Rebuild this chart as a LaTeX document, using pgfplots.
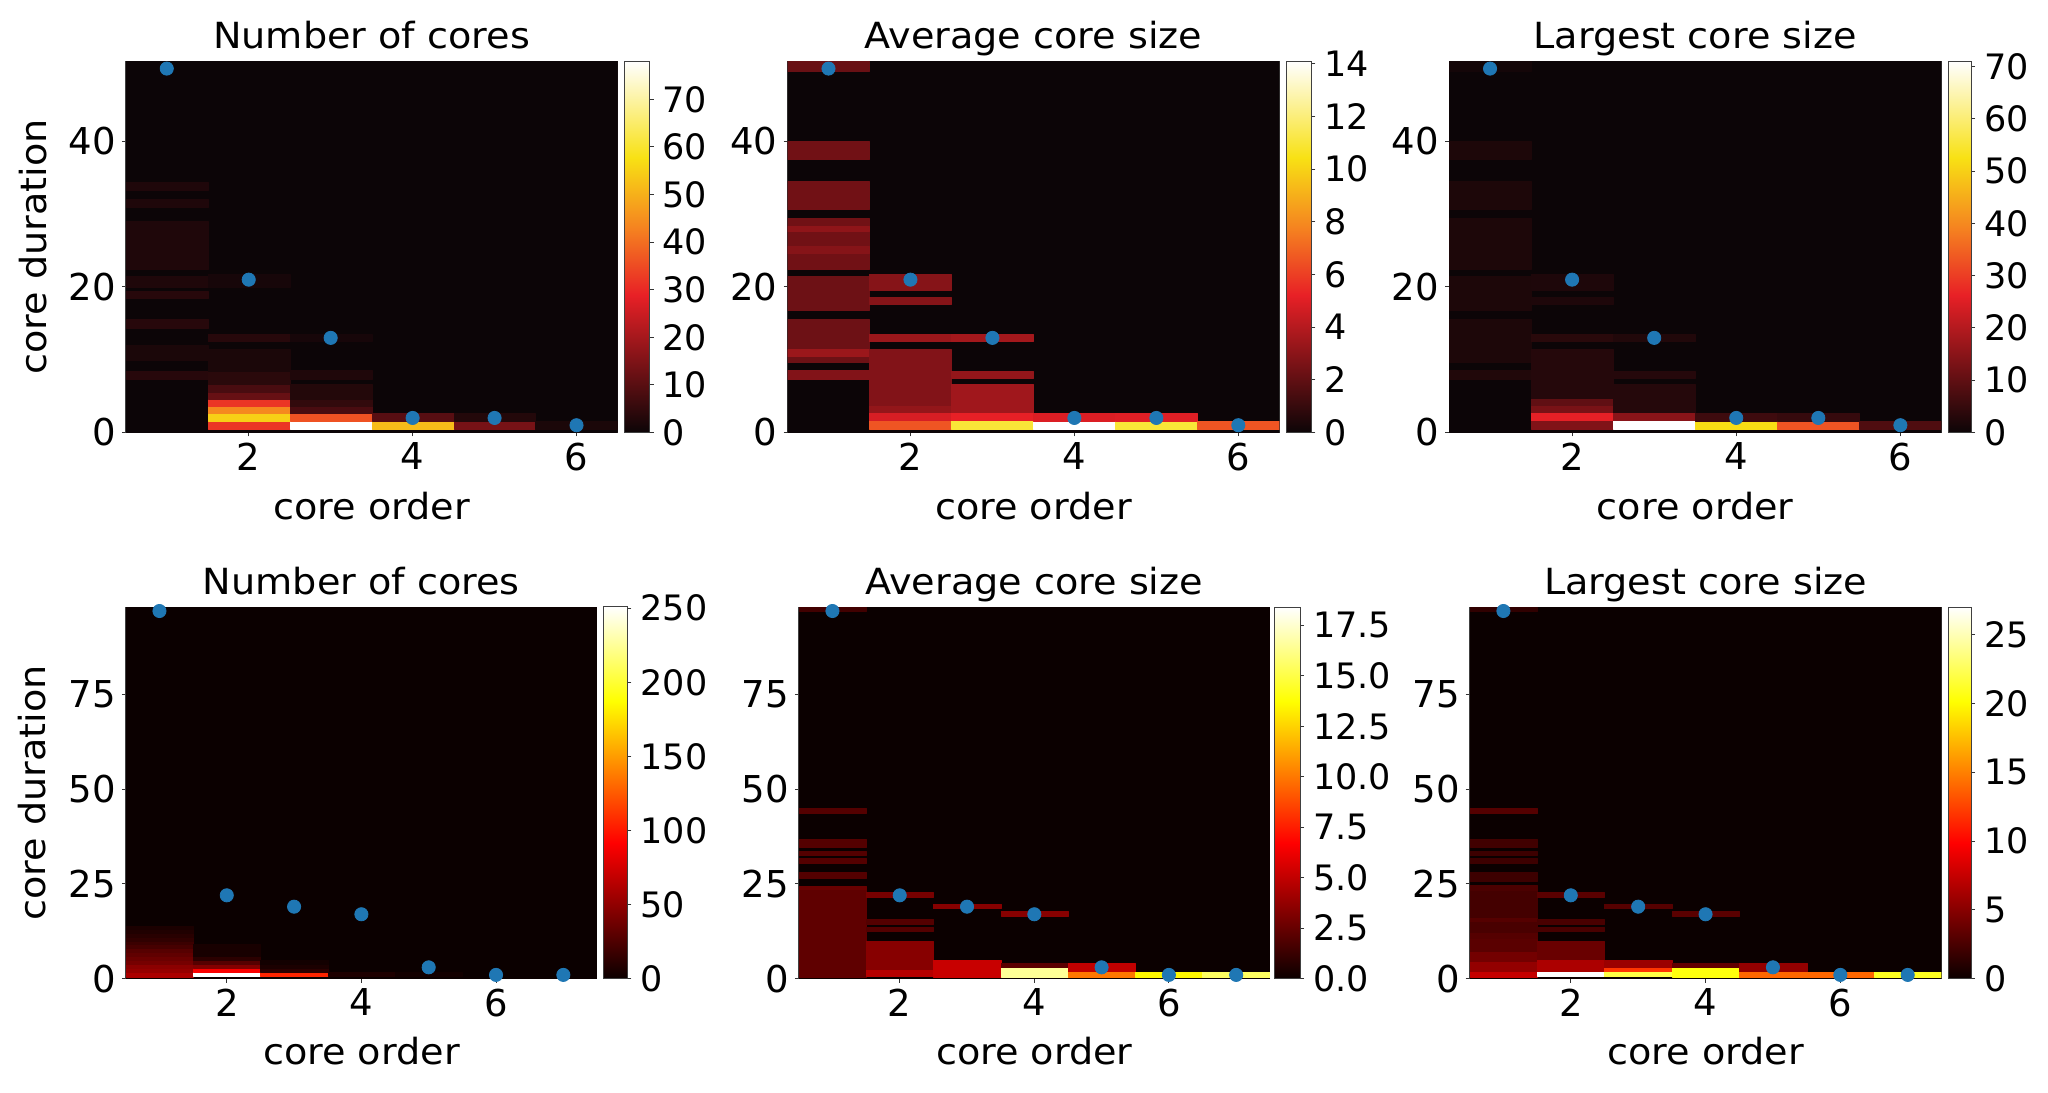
\documentclass[border=0pt]{standalone}
\usepackage{fontspec}
\setmainfont{DejaVu Sans}
\newfontfamily\labelfont[FakeStretch=1.06]{DejaVu Sans}
\usepackage{pgfplots}
\pgfplotsset{compat=1.18}
\definecolor{dotblue}{HTML}{1F77B4}
\pgfplotsset{
  /pgf/number format/assume math mode=true,
  colormap={topmap}{rgb255(0pt)=(12,5,7) rgb255(37pt)=(232,32,38) rgb255(55pt)=(245,130,32) rgb255(74pt)=(248,225,20) rgb255(100pt)=(255,255,255)},
  colormap={hotmap}{rgb255(0pt)=(11,0,0) rgb255(36.5pt)=(255,0,0) rgb255(74.6pt)=(255,255,0) rgb255(100pt)=(255,255,255)},
  colorbar shift/.style={},
  hm/.style={
    scale only axis, anchor=south west, axis line style={black!75,line width=0.5pt},
    tick align=outside, tick pos=left, major tick length=2pt, tick style={black!80,line width=0.5pt},
    xticklabel style={font=\fontsize{18.5}{20}\selectfont,yshift=0.5pt},
    yticklabel style={font=\fontsize{18.5}{20}\selectfont,xshift=0.5pt},
    label style={font=\labelfont\fontsize{18}{20}\selectfont},
    title style={font=\labelfont\fontsize{18}{20}\selectfont,anchor=base},
    xtick={2,4,6}, xmin=0.5, ymin=0, point meta min=0,
    xlabel={core order},
    colorbar,
  },
  band/.style={patch, patch type=rectangle, shader=flat, point meta=explicit, line width=0.1pt},
  dots/.style={only marks, mark=*, mark size=3.3pt, mark options={fill=dotblue,draw=dotblue}, point meta=none},
  cbar/.style={
    at={(parent axis.south east)}, anchor=south west, xshift=#1,
    tick align=outside, major tick length=2pt, tick style={black!80,line width=0.5pt},
    axis line style={black!75,line width=0.5pt},
    ytick pos=right, yticklabel pos=right,
    yticklabel style={font=\fontsize{17.5}{20}\selectfont,xshift=1pt},
  },
}
\begin{document}
\begin{tikzpicture}
\path[use as bounding box] (0,0) rectangle (1024pt,546pt);

% top row, Number of cores
\begin{axis}[hm, at={(62.9pt,329.75pt)}, width=245.85pt, height=185.6pt, xmax=6.5, ymax=51,
  ytick={0,20,40}, colormap name=topmap, point meta max=78,
  title={Number of cores}, title style={at={(0.5,1.003)}},
  xlabel style={at={(0.5,-0.198)},anchor=center},
  ylabel={core duration}, ylabel style={at={(-0.189,0.5)},anchor=center},
  colorbar style={cbar=3.5pt, width=12.5pt, ytick={0,10,20,30,40,50,60,70}}]
\addplot[band] coordinates {
(0.5,0)[0](6.5,0)[0](6.5,51)[0](0.5,51)[0]
(0.5,7.3)[3.5](1.5,7.3)[3.5](1.5,8.5)[3.5](0.5,8.5)[3.5]
(0.5,10)[2](1.5,10)[2](1.5,12)[2](0.5,12)[2]
(0.5,14.4)[3.5](1.5,14.4)[3.5](1.5,15.6)[3.5](0.5,15.6)[3.5]
(0.5,18.4)[3.5](1.5,18.4)[3.5](1.5,19.4)[3.5](0.5,19.4)[3.5]
(0.5,20)[2.5](1.5,20)[2.5](1.5,21.5)[2.5](0.5,21.5)[2.5]
(0.5,22.5)[2.5](1.5,22.5)[2.5](1.5,29)[2.5](0.5,29)[2.5]
(0.5,31)[2.5](1.5,31)[2.5](1.5,32)[2.5](0.5,32)[2.5]
(0.5,33.3)[2.5](1.5,33.3)[2.5](1.5,34.4)[2.5](0.5,34.4)[2.5]
(1.5,0.5)[32](2.5,0.5)[32](2.5,1.6)[32](1.5,1.6)[32]
(1.5,1.6)[55](2.5,1.6)[55](2.5,2.6)[55](1.5,2.6)[55]
(1.5,2.6)[44](2.5,2.6)[44](2.5,3.6)[44](1.5,3.6)[44]
(1.5,3.6)[32](2.5,3.6)[32](2.5,4.6)[32](1.5,4.6)[32]
(1.5,4.6)[12](2.5,4.6)[12](2.5,5.6)[12](1.5,5.6)[12]
(1.5,5.6)[8](2.5,5.6)[8](2.5,6.6)[8](1.5,6.6)[8]
(1.5,6.6)[4](2.5,6.6)[4](2.5,8.5)[4](1.5,8.5)[4]
(1.5,8.5)[2](2.5,8.5)[2](2.5,11.5)[2](1.5,11.5)[2]
(1.5,12.5)[3.5](2.5,12.5)[3.5](2.5,13.5)[3.5](1.5,13.5)[3.5]
(1.5,20)[1.5](2.5,20)[1.5](2.5,21.7)[1.5](1.5,21.7)[1.5]
(2.5,0.5)[78](3.5,0.5)[78](3.5,1.6)[78](2.5,1.6)[78]
(2.5,1.6)[36](3.5,1.6)[36](3.5,2.6)[36](2.5,2.6)[36]
(2.5,2.6)[8](3.5,2.6)[8](3.5,3.6)[8](2.5,3.6)[8]
(2.5,3.6)[5](3.5,3.6)[5](3.5,4.6)[5](2.5,4.6)[5]
(2.5,4.6)[3](3.5,4.6)[3](3.5,6.6)[3](2.5,6.6)[3]
(2.5,7.3)[2.5](3.5,7.3)[2.5](3.5,8.6)[2.5](2.5,8.6)[2.5]
(2.5,12.5)[1.5](3.5,12.5)[1.5](3.5,13.5)[1.5](2.5,13.5)[1.5]
(3.5,0.5)[52](4.5,0.5)[52](4.5,1.6)[52](3.5,1.6)[52]
(3.5,1.6)[10](4.5,1.6)[10](4.5,2.6)[10](3.5,2.6)[10]
(4.5,0.5)[14](5.5,0.5)[14](5.5,1.6)[14](4.5,1.6)[14]
(4.5,1.6)[3](5.5,1.6)[3](5.5,2.6)[3](4.5,2.6)[3]
(5.5,0.5)[2](6.5,0.5)[2](6.5,1.6)[2](5.5,1.6)[2]
};
\addplot[dots] coordinates {(1,50)(2,21)(3,13)(4,2)(5,2)(6,1)};
\end{axis}

% top row, Average core size
\begin{axis}[hm, at={(393.75pt,329.75pt)}, width=245.9pt, height=185.6pt, xmax=6.5, ymax=51,
  ytick={0,20,40}, colormap name=topmap, point meta max=14.1,
  title={Average core size}, title style={at={(0.5,1.003)}},
  xlabel style={at={(0.5,-0.198)},anchor=center},
  colorbar style={cbar=3.5pt, width=12.5pt, ytick={0,2,4,6,8,10,12,14}}]
\addplot[band] coordinates {
(0.5,0)[0](6.5,0)[0](6.5,51)[0](0.5,51)[0]
(0.5,49.6)[2.2](1.5,49.6)[2.2](1.5,51)[2.2](0.5,51)[2.2]
(0.5,37.6)[2.4](1.5,37.6)[2.4](1.5,40)[2.4](0.5,40)[2.4]
(0.5,30.7)[2.4](1.5,30.7)[2.4](1.5,34.5)[2.4](0.5,34.5)[2.4]
(0.5,22.5)[2.4](1.5,22.5)[2.4](1.5,29.5)[2.4](0.5,29.5)[2.4]
(0.5,27.7)[3.1](1.5,27.7)[3.1](1.5,28.4)[3.1](0.5,28.4)[3.1]
(0.5,24.6)[2.9](1.5,24.6)[2.9](1.5,25.6)[2.9](0.5,25.6)[2.9]
(0.5,16.8)[2.3](1.5,16.8)[2.3](1.5,21.5)[2.3](0.5,21.5)[2.3]
(0.5,9.7)[2.3](1.5,9.7)[2.3](1.5,15.6)[2.3](0.5,15.6)[2.3]
(0.5,10.5)[3.4](1.5,10.5)[3.4](1.5,11.5)[3.4](0.5,11.5)[3.4]
(0.5,7.4)[2.8](1.5,7.4)[2.8](1.5,8.6)[2.8](0.5,8.6)[2.8]
(1.5,19.6)[2.9](2.5,19.6)[2.9](2.5,21.7)[2.9](1.5,21.7)[2.9]
(1.5,17.7)[2.9](2.5,17.7)[2.9](2.5,18.6)[2.9](1.5,18.6)[2.9]
(1.5,12.5)[3.4](2.5,12.5)[3.4](2.5,13.5)[3.4](1.5,13.5)[3.4]
(1.5,3.6)[2.8](2.5,3.6)[2.8](2.5,11.5)[2.8](1.5,11.5)[2.8]
(1.5,2.6)[3.2](2.5,2.6)[3.2](2.5,3.6)[3.2](1.5,3.6)[3.2]
(1.5,1.6)[4.8](2.5,1.6)[4.8](2.5,2.6)[4.8](1.5,2.6)[4.8]
(1.5,0.5)[6.6](2.5,0.5)[6.6](2.5,1.6)[6.6](1.5,1.6)[6.6]
(2.5,12.5)[3.6](3.5,12.5)[3.6](3.5,13.5)[3.6](2.5,13.5)[3.6]
(2.5,7.5)[3.2](3.5,7.5)[3.2](3.5,8.5)[3.2](2.5,8.5)[3.2]
(2.5,2.6)[3.5](3.5,2.6)[3.5](3.5,6.6)[3.5](2.5,6.6)[3.5]
(2.5,1.6)[5.2](3.5,1.6)[5.2](3.5,2.6)[5.2](2.5,2.6)[5.2]
(2.5,0.5)[11](3.5,0.5)[11](3.5,1.6)[11](2.5,1.6)[11]
(3.5,0.5)[14.1](4.5,0.5)[14.1](4.5,1.6)[14.1](3.5,1.6)[14.1]
(3.5,1.6)[4.9](4.5,1.6)[4.9](4.5,2.6)[4.9](3.5,2.6)[4.9]
(4.5,0.5)[11](5.5,0.5)[11](5.5,1.6)[11](4.5,1.6)[11]
(4.5,1.6)[5](5.5,1.6)[5](5.5,2.6)[5](4.5,2.6)[5]
(5.5,0.5)[6.6](6.5,0.5)[6.6](6.5,1.6)[6.6](5.5,1.6)[6.6]
};
\addplot[dots] coordinates {(1,50)(2,21)(3,13)(4,2)(5,2)(6,1)};
\end{axis}

% top row, Largest core size
\begin{axis}[hm, at={(724.5pt,329.75pt)}, width=246.2pt, height=185.6pt, xmax=6.5, ymax=51,
  ytick={0,20,40}, colormap name=topmap, point meta max=71,
  title={Largest core size}, title style={at={(0.5,1.003)}},
  xlabel style={at={(0.5,-0.198)},anchor=center},
  colorbar style={cbar=3.5pt, width=11.4pt, ytick={0,10,20,30,40,50,60,70}}]
\addplot[band] coordinates {
(0.5,0)[0](6.5,0)[0](6.5,51)[0](0.5,51)[0]
(0.5,49.6)[1](1.5,49.6)[1](1.5,51)[1](0.5,51)[1]
(0.5,37.6)[2](1.5,37.6)[2](1.5,40)[2](0.5,40)[2]
(0.5,30.7)[2](1.5,30.7)[2](1.5,34.5)[2](0.5,34.5)[2]
(0.5,22.5)[2](1.5,22.5)[2](1.5,29.5)[2](0.5,29.5)[2]
(0.5,16.8)[2](1.5,16.8)[2](1.5,21.5)[2](0.5,21.5)[2]
(0.5,9.7)[2](1.5,9.7)[2](1.5,15.6)[2](0.5,15.6)[2]
(0.5,7.4)[2.5](1.5,7.4)[2.5](1.5,8.6)[2.5](0.5,8.6)[2.5]
(1.5,19.6)[2.2](2.5,19.6)[2.2](2.5,21.7)[2.2](1.5,21.7)[2.2]
(1.5,17.7)[2.2](2.5,17.7)[2.2](2.5,18.6)[2.2](1.5,18.6)[2.2]
(1.5,12.5)[3.5](2.5,12.5)[3.5](2.5,13.5)[3.5](1.5,13.5)[3.5]
(1.5,4.6)[3](2.5,4.6)[3](2.5,11.5)[3](1.5,11.5)[3]
(1.5,3.6)[10](2.5,3.6)[10](2.5,4.6)[10](1.5,4.6)[10]
(1.5,2.6)[13](2.5,2.6)[13](2.5,3.6)[13](1.5,3.6)[13]
(1.5,1.6)[26](2.5,1.6)[26](2.5,2.6)[26](1.5,2.6)[26]
(1.5,0.5)[14](2.5,0.5)[14](2.5,1.6)[14](1.5,1.6)[14]
(2.5,12.5)[2.5](3.5,12.5)[2.5](3.5,13.5)[2.5](2.5,13.5)[2.5]
(2.5,7.5)[3](3.5,7.5)[3](3.5,8.5)[3](2.5,8.5)[3]
(2.5,2.6)[3](3.5,2.6)[3](3.5,6.6)[3](2.5,6.6)[3]
(2.5,1.6)[15](3.5,1.6)[15](3.5,2.6)[15](2.5,2.6)[15]
(2.5,0.5)[71](3.5,0.5)[71](3.5,1.6)[71](2.5,1.6)[71]
(3.5,0.5)[52](4.5,0.5)[52](4.5,1.6)[52](3.5,1.6)[52]
(3.5,1.6)[6](4.5,1.6)[6](4.5,2.6)[6](3.5,2.6)[6]
(4.5,0.5)[33](5.5,0.5)[33](5.5,1.6)[33](4.5,1.6)[33]
(4.5,1.6)[5](5.5,1.6)[5](5.5,2.6)[5](4.5,2.6)[5]
(5.5,0.5)[8](6.5,0.5)[8](6.5,1.6)[8](5.5,1.6)[8]
};
\addplot[dots] coordinates {(1,50)(2,21)(3,13)(4,2)(5,2)(6,1)};
\end{axis}

% bottom row, Number of cores
\begin{axis}[hm, at={(62.9pt,56.65pt)}, width=235.6pt, height=185.75pt, xmax=7.5, ymax=98,
  ytick={0,25,50,75}, colormap name=hotmap, point meta max=251,
  title={Number of cores}, title style={at={(0.5,1.003)}},
  xlabel style={at={(0.5,-0.195)},anchor=center},
  ylabel={core duration}, ylabel style={at={(-0.198,0.5)},anchor=center},
  colorbar style={cbar=3.1pt, width=12.15pt, ytick={0,50,100,150,200,250}}]
\addplot[band] coordinates {
(0.5,0)[0](7.5,0)[0](7.5,98)[0](0.5,98)[0]
(0.5,0.5)[60](1.5,0.5)[60](1.5,1.7)[60](0.5,1.7)[60]
(0.5,1.7)[52](1.5,1.7)[52](1.5,2.8)[52](0.5,2.8)[52]
(0.5,2.8)[48](1.5,2.8)[48](1.5,3.9)[48](0.5,3.9)[48]
(0.5,3.9)[40](1.5,3.9)[40](1.5,5)[40](0.5,5)[40]
(0.5,5)[36](1.5,5)[36](1.5,6)[36](0.5,6)[36]
(0.5,6)[32](1.5,6)[32](1.5,7)[32](0.5,7)[32]
(0.5,7)[28](1.5,7)[28](1.5,8)[28](0.5,8)[28]
(0.5,8)[22](1.5,8)[22](1.5,9)[22](0.5,9)[22]
(0.5,9)[18](1.5,9)[18](1.5,10)[18](0.5,10)[18]
(0.5,10)[14](1.5,10)[14](1.5,11)[14](0.5,11)[14]
(0.5,11)[11](1.5,11)[11](1.5,12)[11](0.5,12)[11]
(0.5,12)[8](1.5,12)[8](1.5,13)[8](0.5,13)[8]
(0.5,13)[6](1.5,13)[6](1.5,14)[6](0.5,14)[6]
(1.5,0.6)[251](2.5,0.6)[251](2.5,1.7)[251](1.5,1.7)[251]
(1.5,1.7)[90](2.5,1.7)[90](2.5,2.8)[90](1.5,2.8)[90]
(1.5,2.8)[45](2.5,2.8)[45](2.5,3.9)[45](1.5,3.9)[45]
(1.5,3.9)[28](2.5,3.9)[28](2.5,5)[28](1.5,5)[28]
(1.5,5)[12](2.5,5)[12](2.5,6)[12](1.5,6)[12]
(1.5,6)[5](2.5,6)[5](2.5,9)[5](1.5,9)[5]
(2.5,0.6)[105](3.5,0.6)[105](3.5,1.7)[105](2.5,1.7)[105]
(2.5,1.7)[12](3.5,1.7)[12](3.5,2.8)[12](2.5,2.8)[12]
(2.5,2.8)[6](3.5,2.8)[6](3.5,3.9)[6](2.5,3.9)[6]
(2.5,3.9)[3](3.5,3.9)[3](3.5,5)[3](2.5,5)[3]
(3.5,0.6)[7](4.5,0.6)[7](4.5,1.7)[7](3.5,1.7)[7]
(4.5,0.6)[3](5.5,0.6)[3](5.5,1.7)[3](4.5,1.7)[3]
};
\addplot[dots] coordinates {(1,97)(2,22)(3,19)(4,17)(5,3)(6,1)(7,1)};
\end{axis}

% bottom row, Average core size
\begin{axis}[hm, at={(399.4pt,56.65pt)}, width=235.5pt, height=185.75pt, xmax=7.5, ymax=98,
  ytick={0,25,50,75}, colormap name=hotmap, point meta max=18.4,
  title={Average core size}, title style={at={(0.5,1.003)}},
  xlabel style={at={(0.5,-0.195)},anchor=center},
  colorbar style={cbar=2.35pt, width=12.8pt, ytick={0,2.5,5,7.5,10,12.5,15,17.5},
    yticklabel style={/pgf/number format/fixed,/pgf/number format/fixed zerofill,/pgf/number format/precision=1}}]
\addplot[band] coordinates {
(0.5,0)[0](7.5,0)[0](7.5,98)[0](0.5,98)[0]
(0.5,97)[1.5](1.5,97)[1.5](1.5,98)[1.5](0.5,98)[1.5]
(0.5,43.6)[2](1.5,43.6)[2](1.5,45)[2](0.5,45)[2]
(0.5,34.8)[2](1.5,34.8)[2](1.5,36.8)[2](0.5,36.8)[2]
(0.5,32.5)[2](1.5,32.5)[2](1.5,33.6)[2](0.5,33.6)[2]
(0.5,30.6)[2](1.5,30.6)[2](1.5,31.8)[2](0.5,31.8)[2]
(0.5,26.6)[2](1.5,26.6)[2](1.5,28)[2](0.5,28)[2]
(0.5,23.4)[2.6](1.5,23.4)[2.6](1.5,24.5)[2.6](0.5,24.5)[2.6]
(0.5,0.5)[2.3](1.5,0.5)[2.3](1.5,23.4)[2.3](0.5,23.4)[2.3]
(1.5,21.5)[3](2.5,21.5)[3](2.5,22.9)[3](1.5,22.9)[3]
(1.5,14.5)[2](2.5,14.5)[2](2.5,15.7)[2](1.5,15.7)[2]
(1.5,12.5)[2](2.5,12.5)[2](2.5,13.7)[2](1.5,13.7)[2]
(1.5,2.3)[3.4](2.5,2.3)[3.4](2.5,10)[3.4](1.5,10)[3.4]
(1.5,0.6)[4.7](2.5,0.6)[4.7](2.5,2.3)[4.7](1.5,2.3)[4.7]
(2.5,18.5)[3.4](3.5,18.5)[3.4](3.5,19.8)[3.4](2.5,19.8)[3.4]
(2.5,0.5)[5.2](3.5,0.5)[5.2](3.5,4.8)[5.2](2.5,4.8)[5.2]
(3.5,16.6)[3.4](4.5,16.6)[3.4](4.5,17.9)[3.4](3.5,17.9)[3.4]
(3.5,2.7)[2.2](4.5,2.7)[2.2](4.5,4.1)[2.2](3.5,4.1)[2.2]
(3.5,0.5)[16.5](4.5,0.5)[16.5](4.5,2.7)[16.5](3.5,2.7)[16.5]
(4.5,1.8)[5](5.5,1.8)[5](5.5,4.1)[5](4.5,4.1)[5]
(4.5,0.5)[10](5.5,0.5)[10](5.5,1.8)[10](4.5,1.8)[10]
(5.5,0.5)[13.5](6.5,0.5)[13.5](6.5,1.7)[13.5](5.5,1.7)[13.5]
(6.5,0.5)[15.5](7.5,0.5)[15.5](7.5,1.7)[15.5](6.5,1.7)[15.5]
};
\addplot[dots] coordinates {(1,97)(2,22)(3,19)(4,17)(5,3)(6,1)(7,1)};
\end{axis}

% bottom row, Largest core size
\begin{axis}[hm, at={(734.85pt,56.65pt)}, width=235.85pt, height=185.75pt, xmax=7.5, ymax=98,
  ytick={0,25,50,75}, colormap name=hotmap, point meta max=27,
  title={Largest core size}, title style={at={(0.5,1.003)}},
  xlabel style={at={(0.5,-0.195)},anchor=center},
  colorbar style={cbar=3.5pt, width=11.4pt, ytick={0,5,10,15,20,25}}]
\addplot[band] coordinates {
(0.5,0)[0](7.5,0)[0](7.5,98)[0](0.5,98)[0]
(0.5,97)[1.5](1.5,97)[1.5](1.5,98)[1.5](0.5,98)[1.5]
(0.5,43.6)[3](1.5,43.6)[3](1.5,45)[3](0.5,45)[3]
(0.5,34.8)[2.2](1.5,34.8)[2.2](1.5,36.8)[2.2](0.5,36.8)[2.2]
(0.5,32.5)[2](1.5,32.5)[2](1.5,33.6)[2](0.5,33.6)[2]
(0.5,30.6)[2](1.5,30.6)[2](1.5,31.8)[2](0.5,31.8)[2]
(0.5,25.7)[2](1.5,25.7)[2](1.5,28)[2](0.5,28)[2]
(0.5,23)[2.6](1.5,23)[2.6](1.5,24.6)[2.6](0.5,24.6)[2.6]
(0.5,16)[2.3](1.5,16)[2.3](1.5,23)[2.3](0.5,23)[2.3]
(0.5,15)[3](1.5,15)[3](1.5,16)[3](0.5,16)[3]
(0.5,12)[2.5](1.5,12)[2.5](1.5,15)[2.5](0.5,15)[2.5]
(0.5,10.5)[3](1.5,10.5)[3](1.5,12)[3](0.5,12)[3]
(0.5,7)[3.2](1.5,7)[3.2](1.5,10.5)[3.2](0.5,10.5)[3.2]
(0.5,4.5)[4.2](1.5,4.5)[4.2](1.5,7)[4.2](0.5,7)[4.2]
(0.5,1.8)[5.5](1.5,1.8)[5.5](1.5,4.5)[5.5](0.5,4.5)[5.5]
(0.5,0.5)[7.5](1.5,0.5)[7.5](1.5,1.8)[7.5](0.5,1.8)[7.5]
(1.5,21.5)[3.2](2.5,21.5)[3.2](2.5,22.9)[3.2](1.5,22.9)[3.2]
(1.5,14.5)[2.5](2.5,14.5)[2.5](2.5,15.7)[2.5](1.5,15.7)[2.5]
(1.5,12.5)[2.5](2.5,12.5)[2.5](2.5,13.7)[2.5](1.5,13.7)[2.5]
(1.5,5)[3.8](2.5,5)[3.8](2.5,10)[3.8](1.5,10)[3.8]
(1.5,1.8)[6.5](2.5,1.8)[6.5](2.5,5)[6.5](1.5,5)[6.5]
(1.5,0.6)[27](2.5,0.6)[27](2.5,1.8)[27](1.5,1.8)[27]
(2.5,18.5)[3](3.5,18.5)[3](3.5,19.8)[3](2.5,19.8)[3]
(2.5,2.7)[5.8](3.5,2.7)[5.8](3.5,4.8)[5.8](2.5,4.8)[5.8]
(2.5,1.7)[12](3.5,1.7)[12](3.5,2.7)[12](2.5,2.7)[12]
(2.5,0.6)[22](3.5,0.6)[22](3.5,1.7)[22](2.5,1.7)[22]
(3.5,16.6)[3.2](4.5,16.6)[3.2](4.5,17.9)[3.2](3.5,17.9)[3.2]
(3.5,2.7)[3.5](4.5,2.7)[3.5](4.5,4.1)[3.5](3.5,4.1)[3.5]
(3.5,0.5)[20.5](4.5,0.5)[20.5](4.5,2.7)[20.5](3.5,2.7)[20.5]
(4.5,1.8)[5.5](5.5,1.8)[5.5](5.5,4.1)[5.5](4.5,4.1)[5.5]
(4.5,0.5)[14](5.5,0.5)[14](5.5,1.8)[14](4.5,1.8)[14]
(5.5,0.5)[14](6.5,0.5)[14](6.5,1.8)[14](5.5,1.8)[14]
(6.5,0.5)[21](7.5,0.5)[21](7.5,1.8)[21](6.5,1.8)[21]
};
\addplot[dots] coordinates {(1,97)(2,22)(3,19)(4,17)(5,3)(6,1)(7,1)};
\end{axis}
\end{tikzpicture}
\end{document}
